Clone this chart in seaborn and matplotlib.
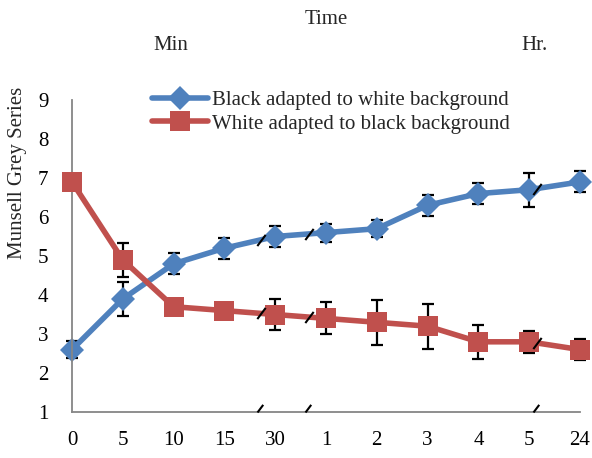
import numpy as np
import pandas as pd
import matplotlib
matplotlib.use('Agg')
import matplotlib.pyplot as plt
import seaborn as sns

# categories on the time axis (min, then hr)
time_labels = ['0', '5', '10', '15', '30', '1', '2', '3', '4', '5', '24']
black_to_white = [2.6, 3.9, 4.8, 5.2, 5.5, 5.6, 5.7, 6.3, 6.6, 6.7, 6.9]
black_to_white_err = [0.21, 0.44, 0.27, 0.27, 0.26, 0.23, 0.22, 0.27, 0.27, 0.44, 0.27]
white_to_black = [6.9, 4.9, 3.7, 3.6, 3.5, 3.4, 3.3, 3.2, 2.8, 2.8, 2.6]
white_to_black_err = [0.15, 0.44, 0.15, 0.15, 0.41, 0.41, 0.57, 0.58, 0.44, 0.28, 0.27]
break_pos = [3.72, 4.67, 9.15]

sns.set_style('white')
plt.rcParams['font.family'] = ['Liberation Serif', 'DejaVu Serif']
FS = 15

df = pd.DataFrame({'pos': np.arange(len(time_labels)),
                   'bw': black_to_white, 'wb': white_to_black})

fig = plt.figure(figsize=(5.92, 4.58), dpi=100)
ax = fig.add_axes([72/592, 46/458, 508/592, 312/458])

blue = '#4F81BD'
red = '#C0504D'

ax.errorbar(df['pos'], df['bw'], yerr=black_to_white_err, fmt='none', ecolor='black',
            elinewidth=1.6, capsize=4.5, capthick=1.6, zorder=1, clip_on=False)
ax.errorbar(df['pos'], df['wb'], yerr=white_to_black_err, fmt='none', ecolor='black',
            elinewidth=1.6, capsize=4.5, capthick=1.6, zorder=1, clip_on=False)

sns.lineplot(data=df, x='pos', y='bw', ax=ax, color=blue, lw=4, marker='D', markersize=12,
             markeredgewidth=0, label='Black adapted to white background', zorder=2,
             clip_on=False)
sns.lineplot(data=df, x='pos', y='wb', ax=ax, color=red, lw=4, marker='s', markersize=14,
             markeredgewidth=0, label='White adapted to black background', zorder=3,
             clip_on=False)

# axis break marks on the lines and on the x axis
slash_mid = [(-0.75, -1), (0.75, 1)]
slash_up = [(0, 0), (0.75, 1)]
for b in break_pos:
    for vals in (black_to_white, white_to_black):
        yb = np.interp(b, df['pos'], vals)
        ax.plot([b], [yb], marker=slash_mid, markersize=8, markeredgewidth=1.5,
                color='black', ls='none', zorder=5)
    ax.plot([b - 0.08], [1], marker=slash_up, markersize=11, markeredgewidth=1.5,
            color='black', ls='none', zorder=5, clip_on=False)

ax.set_xlim(0, len(time_labels) - 1)
ax.set_ylim(1, 9)
ax.set_xticks(df['pos'])
ax.set_xticklabels(time_labels)
ax.set_yticks(range(1, 10))
ax.set_xlabel('')
ax.set_ylabel('Munsell Grey Series', fontsize=FS)
ax.yaxis.set_label_coords(-0.088, 0.765)

for s in ['top', 'right']:
    ax.spines[s].set_visible(False)
for s in ['left', 'bottom']:
    ax.spines[s].set_color('#868686')
    ax.spines[s].set_linewidth(1.3)
    ax.spines[s].set_clip_on(False)
ax.tick_params(axis='both', which='major', direction='out', length=4, width=1.2,
               color='#868686', labelsize=FS, labelcolor='black')
ax.tick_params(axis='x', pad=10)
ax.tick_params(axis='y', pad=13)

ax.legend(loc='upper left', bbox_to_anchor=(142/592, 1 - 80/458), bbox_transform=fig.transFigure,
          frameon=False, fontsize=FS, handlelength=2.65, handletextpad=0.2, labelspacing=0.2,
          borderpad=0)

fig.text(326/592, 1 - 20/458, 'Time', ha='center', va='center', fontsize=FS)
fig.text(171/592, 1 - 45/458, 'Min', ha='center', va='center', fontsize=FS)
fig.text(535/592, 1 - 45/458, 'Hr.', ha='center', va='center', fontsize=FS)

fig.savefig('out.png', dpi=100)
